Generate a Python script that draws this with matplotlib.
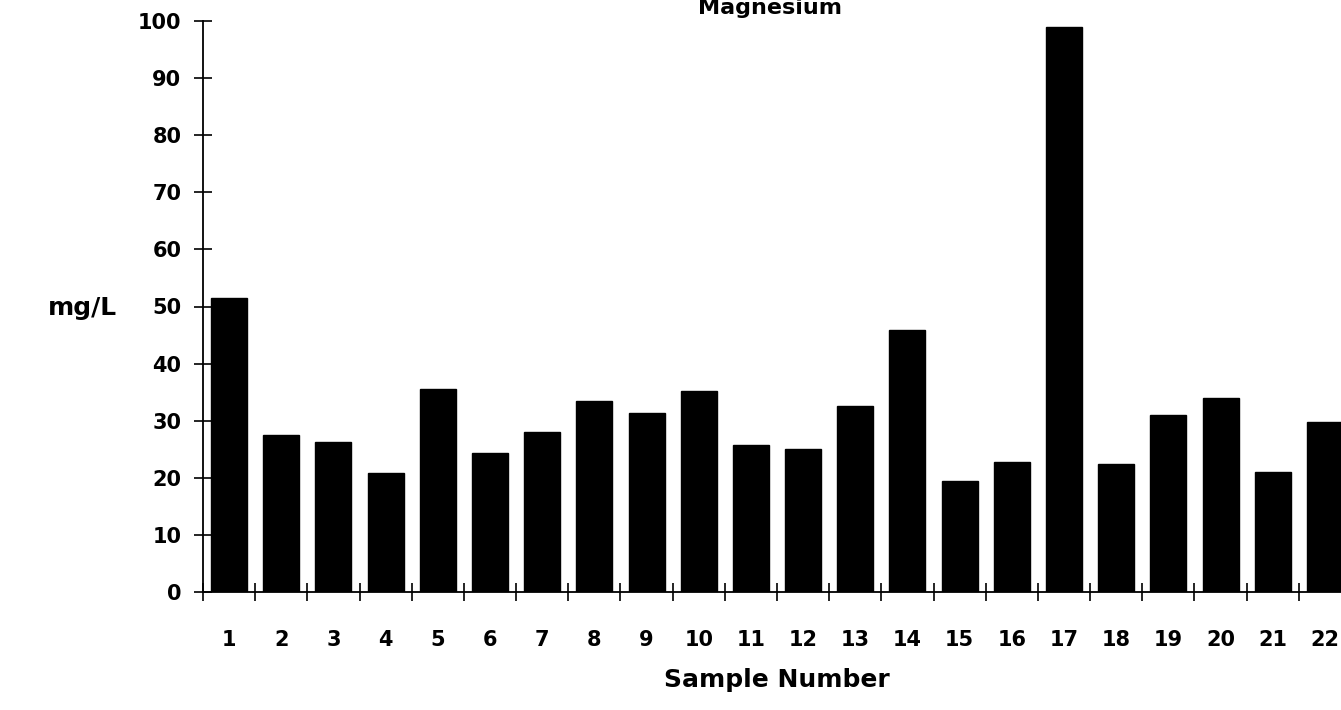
import numpy as np
import matplotlib
matplotlib.use("Agg")
import matplotlib.pyplot as plt
from matplotlib.ticker import FixedLocator

# Data
samples = [str(i) for i in range(1, 23)]
magnesium = [51.5, 27.5, 26.2, 20.8, 35.5, 24.3, 28.0, 33.5, 31.4, 35.2, 25.7,
             25.1, 32.6, 45.8, 19.5, 22.8, 99.0, 22.5, 31.0, 34.0, 21.0, 29.8]
y_ticks = list(range(0, 101, 10))

plt.rcParams['font.family'] = ['DejaVu Sans']

W, H = 1341, 710
fig = plt.figure(figsize=(W / 100, H / 100), dpi=100)

# axes placed in pixel coordinates (right edge runs past the figure, like the scan)
left, right, bottom, top = 203, 1351, 710 - 592, 710 - 21
ax = fig.add_axes([left / W, bottom / H, (right - left) / W, (top - bottom) / H])

x = np.arange(len(samples))
ax.bar(x, magnesium, width=0.69, color='black', edgecolor='black')

ax.set_xlim(-0.5, len(samples) - 0.5)
ax.set_ylim(0, 100)

for s in ['top', 'right']:
    ax.spines[s].set_visible(False)
for s in ['left', 'bottom']:
    ax.spines[s].set_linewidth(1.3)

# y ticks crossing the axis
ax.set_yticks(y_ticks)
ax.set_yticklabels([str(v) for v in y_ticks], fontsize=15, fontweight='bold')
ax.tick_params(axis='y', direction='inout', length=13, width=1.2, pad=9)

# x: tick marks between bars, labels under bars
ax.xaxis.set_major_locator(FixedLocator(x - 0.5))
ax.set_xticklabels([])
ax.xaxis.set_minor_locator(FixedLocator(x))
ax.set_xticklabels(samples, minor=True, fontsize=15, fontweight='bold')
ax.tick_params(axis='x', which='major', direction='inout', length=13, width=1.2)
ax.tick_params(axis='x', which='minor', length=0, pad=27)

ax.set_xlabel('Sample Number', fontsize=18, fontweight='bold', labelpad=13)

fig.text(117 / W, 1 - 308 / H, 'mg/L', ha='right', va='center',
         fontsize=18, fontweight='bold')

fig.text(770 / W, 1 - 8 / H, 'Magnesium', ha='center', va='center',
         fontsize=16, fontweight='bold')

fig.savefig('out.png', dpi=100)
